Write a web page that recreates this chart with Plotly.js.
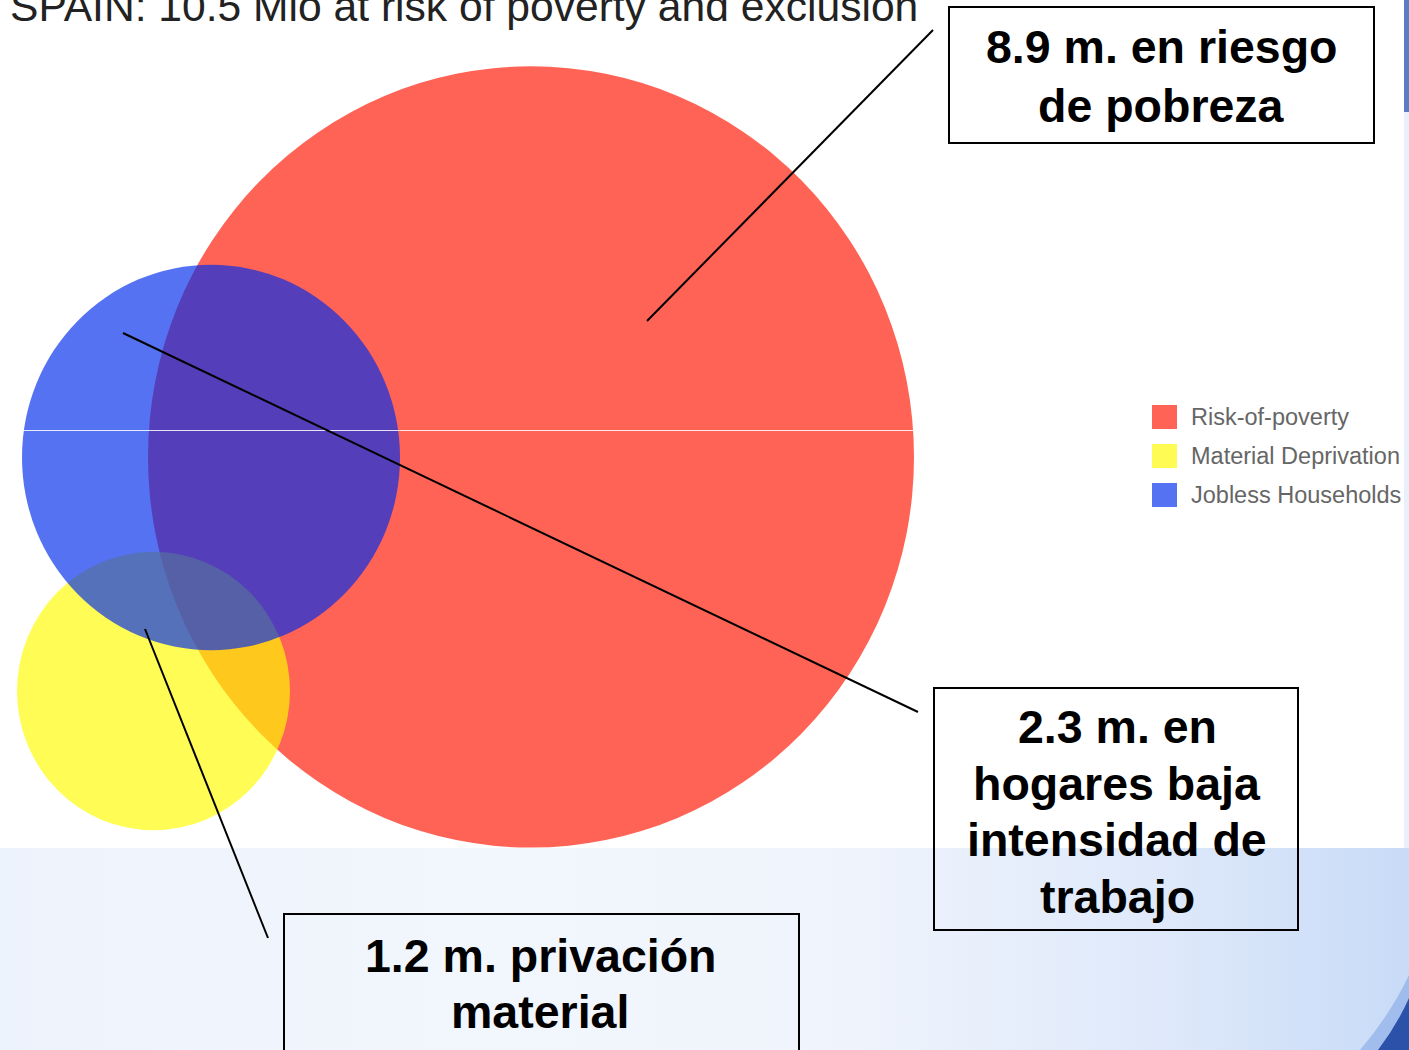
<!DOCTYPE html>
<html>
<head>
<meta charset="utf-8">
<script src="https://cdn.plot.ly/plotly-3.0.1.min.js"></script>
<style>
  html, body { margin: 0; padding: 0; }
  body {
    width: 1409px; height: 1050px; overflow: hidden;
    background: linear-gradient(90deg, #edf3fc 0%, #f2f6fd 35%, #eff4fc 60%, #dfe9fa 82%, #c8dbf7 100%);
  }
  #chart { width: 1409px; height: 1050px; }
</style>
</head>
<body>
<div id="chart"></div>
<script>
// ---- data ----
const chartTitle = 'SPAIN: 10.5 Mio at risk of poverty and exclusion';
const setNames = ['Risk-of-poverty', 'Material Deprivation', 'Jobless Households'];
const setValues = [8.9, 1.2, 2.3];            // millions of people
// Venn layout (chart units) for each set: centre and radius
const circleX = [531, 153.5, 211];
const circleY = [448, 677.5, 448.5];
const circleR = [383, 136.5, 189];
const calloutLines = [
  ['8.9 m. en riesgo', 'de pobreza'],
  ['2.3 m. en', 'hogares baja', 'intensidad de', 'trabajo'],
  ['1.2 m. privación', 'material']
];

// ---- styles ----
const W = 1409, H = 1050, YSTRETCH = 1.02;
const FONT = 'Liberation Sans, Arial, Helvetica, sans-serif';
const setColors = ['rgba(255,21,0,0.667)', 'rgba(255,250,0,0.667)', 'rgba(0,44,235,0.667)'];
const legendSwatch = ['#ff6355', '#fffb55', '#5572f2'];
const X = p => p / W;
const Y = p => 1 - p / H;

const shapes = [];
// white slide area behind the chart
shapes.push({type:'rect', xref:'paper', yref:'paper', x0:X(0), x1:X(1404), y0:Y(0), y1:Y(848),
  fillcolor:'#ffffff', line:{width:0}, layer:'below'});
// right strip decoration
shapes.push({type:'rect', xref:'paper', yref:'paper', x0:X(1404), x1:X(1409), y0:Y(112), y1:Y(848),
  fillcolor:'#e9effb', line:{width:0}, layer:'below'});
shapes.push({type:'rect', xref:'paper', yref:'paper', x0:X(1404), x1:X(1409), y0:Y(0), y1:Y(112),
  fillcolor:'#5b7cc4', line:{width:0}, layer:'below'});
// bottom-right swoosh
shapes.push({type:'path', xref:'paper', yref:'paper',
  path:`M ${X(1360)} ${Y(1050)} Q ${X(1390)} ${Y(1015)} ${X(1409)} ${Y(975)} L ${X(1409)} ${Y(1050)} Z`,
  fillcolor:'rgba(110,150,225,0.45)', line:{width:0}, layer:'below'});
shapes.push({type:'path', xref:'paper', yref:'paper',
  path:`M ${X(1378)} ${Y(1050)} Q ${X(1397)} ${Y(1025)} ${X(1409)} ${Y(998)} L ${X(1409)} ${Y(1050)} Z`,
  fillcolor:'rgba(30,70,160,0.9)', line:{width:0}, layer:'below'});

// circles (red, yellow, blue drawn in that order)
for (let i = 0; i < setNames.length; i++) {
  shapes.push({type:'circle', xref:'x', yref:'y',
    x0: circleX[i] - circleR[i], x1: circleX[i] + circleR[i],
    y0: circleY[i] - circleR[i], y1: circleY[i] + circleR[i],
    fillcolor: setColors[i], line:{width:0}, layer:'below'});
}
// faint horizontal artefact line
shapes.push({type:'line', xref:'paper', yref:'paper', x0:X(0), x1:X(1404), y0:Y(430.5), y1:Y(430.5),
  line:{color:'rgba(255,255,255,0.85)', width:1}, layer:'above'});

// leader lines
const leaders = [[647,321,933,30],[123,333,918,712],[145,629,268,938]];
leaders.forEach(l => shapes.push({type:'line', xref:'paper', yref:'paper',
  x0:X(l[0]), y0:Y(l[1]), x1:X(l[2]), y1:Y(l[3]), line:{color:'#000', width:2}, layer:'above'}));

// callout boxes
const boxes = [[949,7,1374,143,'#ffffff'],[934,688,1298,930,'rgba(0,0,0,0)'],[284,914,799,1070,'rgba(0,0,0,0)']];
boxes.forEach(b => shapes.push({type:'rect', xref:'paper', yref:'paper',
  x0:X(b[0]), y0:Y(b[1]), x1:X(b[2]), y1:Y(b[3]), fillcolor:b[4], line:{color:'#000', width:2}, layer:'above'}));

// legend swatches
const legendTop = [405, 444, 483];
for (let i = 0; i < setNames.length; i++) {
  shapes.push({type:'rect', xref:'paper', yref:'paper', x0:X(1152), x1:X(1177),
    y0:Y(legendTop[i]), y1:Y(legendTop[i] + 24), fillcolor:legendSwatch[i], line:{width:0}, layer:'above'});
}

const annotations = [];
annotations.push({text: chartTitle, xref:'paper', yref:'paper', x:X(8), y:Y(6), xanchor:'left', yanchor:'middle',
  showarrow:false, font:{family:FONT, size:42.6, color:'#222222'}});
// legend labels
for (let i = 0; i < setNames.length; i++) {
  annotations.push({text: setNames[i], xref:'paper', yref:'paper', x:X(1189), y:Y(legendTop[i] + 12),
    xanchor:'left', yanchor:'middle', showarrow:false,
    font:{family:FONT, size:23.5, color:'#666666'}});
}
// callout texts, one annotation per line (centre x, first baseline, line step)
const CSIZE = 46.5;
const calloutPos = [[1161, 63, 59], [1117, 743, 56.7], [540, 972, 56.5]];
calloutLines.forEach((lines, i) => lines.forEach((t, j) => {
  const base = calloutPos[i][1] + j * calloutPos[i][2];
  annotations.push({text: t, xref:'paper', yref:'paper',
    x: X(calloutPos[i][0]), y: Y(base - 0.3465 * CSIZE), xanchor:'center', yanchor:'middle', align:'center',
    showarrow:false, font:{family:FONT, size:CSIZE, color:'#000', weight:'bold'}});
}));

const traces = [{
  type:'scatter', mode:'markers', x: circleX, y: circleY,
  text: setNames.map((n, i) => n + ': ' + setValues[i] + ' m.'),
  hoverinfo:'text', marker:{size:1, opacity:0}, showlegend:false
}];

const layout = {
  width: W, height: H, margin:{l:0, r:0, t:0, b:0, pad:0},
  paper_bgcolor:'rgba(0,0,0,0)', plot_bgcolor:'rgba(0,0,0,0)',
  xaxis:{range:[0, W], visible:false, fixedrange:true},
  yaxis:{range:[H / YSTRETCH, 0], visible:false, fixedrange:true},
  showlegend:false, shapes: shapes, annotations: annotations
};

Plotly.newPlot('chart', traces, layout, {displayModeBar:false, staticPlot:true});
</script>
</body>
</html>
